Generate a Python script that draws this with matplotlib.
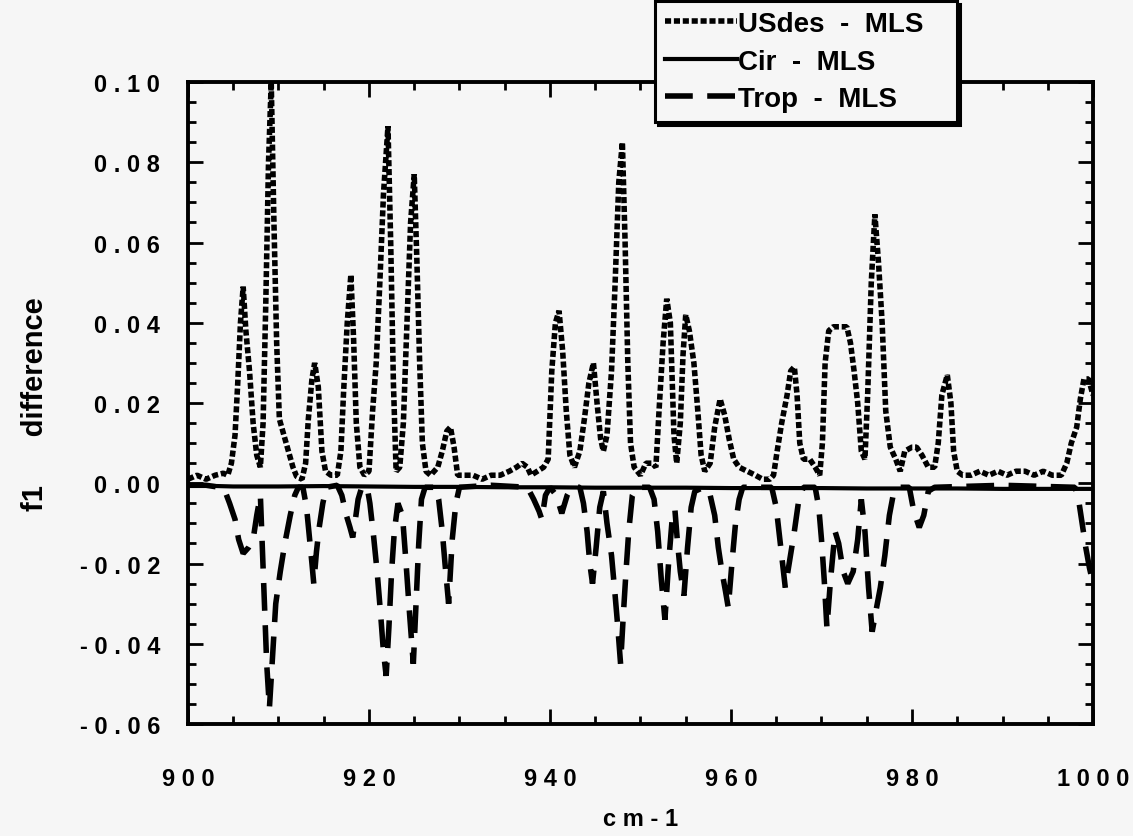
import numpy as np
import matplotlib
matplotlib.use("Agg")
import matplotlib.pyplot as plt

plt.rcParams['font.family'] = ['Liberation Sans', 'DejaVu Sans']
plt.rcParams['font.weight'] = 'bold'

# USdes - MLS (dotted)
us_x = [900.0, 901.0, 902.0, 903.0, 903.9, 904.4, 904.8, 905.2, 905.5, 905.8,
        906.1, 906.4, 906.8, 907.2, 907.6, 908.0, 908.3, 908.6, 908.9, 909.2,
        909.5, 909.8, 910.1, 910.6, 911.1, 911.6, 912.0, 912.6, 913.0, 913.3,
        913.7, 914.0, 914.4, 914.8, 915.2, 915.8, 916.5, 916.9, 917.2, 917.6,
        918.0, 918.3, 918.6, 919.0, 919.5, 920.0, 920.4, 920.8, 921.2, 921.6,
        922.1, 922.4, 922.7, 923.0, 923.4, 923.8, 924.2, 924.6, 925.0, 925.3,
        925.6, 925.9, 926.3, 926.8, 927.6, 928.1, 928.6, 929.0, 929.4, 929.8,
        930.4, 931.5, 932.5, 933.5, 934.5, 935.5, 936.3, 936.9, 937.5, 937.9,
        938.6, 939.3, 939.8, 940.2, 940.6, 941.0, 941.4, 941.8, 942.2, 942.7,
        943.3, 943.8, 944.3, 944.8, 945.2, 945.6, 945.9, 946.3, 946.8, 947.2,
        947.6, 948.0, 948.3, 948.6, 948.9, 949.3, 950.0, 950.6, 951.3, 951.7,
        952.1, 952.5, 952.9, 953.3, 953.7, 954.0, 954.4, 954.7, 955.0, 955.4,
        955.9, 956.3, 956.7, 957.1, 957.7, 958.2, 958.8, 959.3, 959.8, 960.3,
        960.9, 961.8, 962.7, 963.5, 964.3, 964.7, 965.1, 965.6, 966.2, 966.6,
        967.0, 967.3, 967.6, 968.0, 968.7, 969.3, 969.8, 970.1, 970.4, 970.8,
        971.3, 972.0, 972.8, 973.2, 973.6, 974.0, 974.4, 974.8, 975.1, 975.5,
        975.9, 976.3, 976.7, 977.1, 977.6, 978.2, 978.7, 979.2, 980.0, 980.5,
        981.1, 981.8, 982.5, 982.9, 983.3, 983.9, 984.3, 984.6, 985.0, 985.6,
        986.5, 987.5, 988.5, 989.5, 990.5, 991.5, 992.5, 993.5, 994.5, 995.5,
        996.5, 997.1, 997.6, 998.2, 998.6, 999.0, 999.5, 1000.0]
us_y = [0.001, 0.002, 0.001, 0.002, 0.0025, 0.002, 0.005, 0.012, 0.025, 0.040,
        0.049, 0.038, 0.028, 0.015, 0.007, 0.004, 0.015, 0.045, 0.080, 0.100,
        0.065, 0.035, 0.016, 0.012, 0.008, 0.004, 0.0017, 0.001, 0.005, 0.016,
        0.026, 0.030, 0.024, 0.008, 0.003, 0.002, 0.002, 0.008, 0.023, 0.040,
        0.052, 0.036, 0.015, 0.004, 0.002, 0.003, 0.018, 0.030, 0.050, 0.072,
        0.089, 0.060, 0.025, 0.003, 0.004, 0.015, 0.040, 0.065, 0.077, 0.055,
        0.030, 0.010, 0.003, 0.002, 0.004, 0.008, 0.013, 0.014, 0.009, 0.002,
        0.002, 0.002, 0.001, 0.002, 0.002, 0.003, 0.004, 0.005, 0.004, 0.002,
        0.003, 0.004, 0.006, 0.028, 0.040, 0.043, 0.033, 0.018, 0.007, 0.004,
        0.008, 0.016, 0.025, 0.030, 0.020, 0.011, 0.008, 0.012, 0.028, 0.050,
        0.075, 0.085, 0.060, 0.030, 0.010, 0.004, 0.002, 0.005, 0.005, 0.004,
        0.020, 0.035, 0.046, 0.040, 0.012, 0.005, 0.015, 0.032, 0.042, 0.038,
        0.030, 0.019, 0.007, 0.003, 0.005, 0.014, 0.021, 0.017, 0.011, 0.006,
        0.004, 0.003, 0.002, 0.001, 0.001, 0.002, 0.008, 0.015, 0.022, 0.028,
        0.029, 0.022, 0.010, 0.006, 0.006, 0.004, 0.002, 0.010, 0.030, 0.038,
        0.039, 0.039, 0.039, 0.035, 0.028, 0.020, 0.008, 0.006, 0.022, 0.050,
        0.067, 0.055, 0.040, 0.018, 0.009, 0.006, 0.003, 0.008, 0.009, 0.009,
        0.007, 0.004, 0.004, 0.010, 0.022, 0.027, 0.020, 0.008, 0.003, 0.002,
        0.002, 0.003, 0.002, 0.003, 0.002, 0.003, 0.003, 0.002, 0.003, 0.002,
        0.002, 0.005, 0.010, 0.014, 0.021, 0.026, 0.026, 0.022]

# Cir - MLS (solid)
cir_x = [900, 905, 910, 915, 920, 925, 930, 935, 940, 945, 950,
         955, 960, 965, 970, 975, 980, 985, 990, 995, 1000]
cir_y = [-0.0005, -0.0008, -0.0008, -0.0007, -0.0008, -0.0009, -0.0009, -0.0010, -0.0010, -0.0011, -0.0011,
         -0.0011, -0.0012, -0.0012, -0.0012, -0.0013, -0.0013, -0.0013, -0.0014, -0.0014, -0.0014]

# Trop - MLS (dashed)
tr_x = [900.0, 902.0, 903.5, 904.1, 904.6, 905.2, 905.6, 906.1, 906.7, 907.2,
        907.6, 908.0, 908.2, 908.45, 908.7, 909.0, 909.3, 909.7, 910.2, 910.7,
        911.3, 911.8, 912.2, 912.7, 913.1, 913.4, 913.7, 913.9, 914.2, 914.5,
        914.9, 915.3, 916.5, 917.0, 917.5, 917.9, 918.2, 918.5, 918.8, 919.2,
        919.8, 920.1, 920.5, 920.9, 921.3, 921.6, 921.9, 922.2, 922.5, 922.8,
        923.2, 923.7, 924.1, 924.5, 924.9, 925.2, 925.5, 925.8, 926.2, 927.3,
        927.7, 928.1, 928.4, 928.8, 929.2, 929.6, 930.0, 933.5, 937.5, 938.2,
        938.8, 939.1, 939.5, 940.0, 940.7, 941.3, 941.9, 942.4, 943.3, 943.7,
        944.1, 944.4, 944.7, 945.1, 945.5, 945.9, 946.3, 946.8, 947.2, 947.5,
        947.8, 948.1, 948.4, 948.7, 949.1, 949.6, 951.0, 951.5, 951.9, 952.3,
        952.7, 953.1, 953.5, 953.8, 954.1, 954.4, 954.8, 955.2, 955.6, 956.0,
        957.0, 957.7, 958.2, 958.6, 959.0, 959.4, 959.7, 960.1, 960.5, 960.9,
        961.3, 964.5, 965.0, 965.5, 966.0, 966.5, 967.0, 967.5, 968.0, 969.3,
        969.7, 970.0, 970.3, 970.6, 971.0, 971.5, 971.9, 972.4, 972.9, 973.5,
        974.0, 974.4, 974.8, 975.2, 975.6, 976.0, 976.5, 977.0, 977.5, 978.0,
        978.5, 979.7, 980.2, 980.8, 981.3, 981.8, 982.5, 990.0, 998.0, 998.4,
        998.8, 999.2, 999.6, 1000.0]
tr_y = [-0.0005, -0.0005, -0.001, -0.002, -0.005, -0.009, -0.014, -0.0175, -0.016, -0.014,
        -0.008, -0.003, -0.015, -0.030, -0.045, -0.056, -0.045, -0.030, -0.022, -0.015,
        -0.008, -0.003, -0.001, -0.001, -0.006, -0.013, -0.020, -0.025, -0.017, -0.011,
        -0.005, -0.001, -0.0005, -0.003, -0.008, -0.011, -0.0135, -0.009, -0.004, -0.001,
        -0.001, -0.005, -0.013, -0.022, -0.033, -0.042, -0.048, -0.036, -0.022, -0.012,
        -0.005, -0.008, -0.020, -0.033, -0.045, -0.030, -0.015, -0.004, -0.001, -0.001,
        -0.004, -0.012, -0.020, -0.030, -0.014, -0.005, -0.001, -0.0005, -0.001, -0.004,
        -0.007, -0.009, -0.003, -0.001, -0.003, -0.0075, -0.003, -0.001, -0.001, -0.005,
        -0.012, -0.020, -0.025, -0.016, -0.006, -0.002, -0.010, -0.018, -0.028, -0.036,
        -0.045, -0.033, -0.022, -0.012, -0.003, -0.001, -0.001, -0.004, -0.012, -0.024,
        -0.034, -0.020, -0.009, -0.0065, -0.015, -0.022, -0.028, -0.016, -0.006, -0.002,
        -0.001, -0.003, -0.008, -0.016, -0.022, -0.027, -0.031, -0.020, -0.010, -0.004,
        -0.001, -0.001, -0.006, -0.016, -0.026, -0.019, -0.012, -0.004, -0.001, -0.001,
        -0.006, -0.014, -0.024, -0.036, -0.024, -0.012, -0.015, -0.022, -0.025, -0.022,
        -0.014, -0.004, -0.012, -0.026, -0.037, -0.032, -0.026, -0.018, -0.008, -0.002,
        -0.001, -0.001, -0.007, -0.011, -0.008, -0.002, -0.001, -0.0005, -0.001, -0.004,
        -0.010, -0.016, -0.021, -0.025]

series_labels = ["USdes  -  MLS   ", "Cir  -  MLS", "Trop  -  MLS"]
xticks = [900, 920, 940, 960, 980, 1000]
yticks = [-0.06, -0.04, -0.02, 0.00, 0.02, 0.04, 0.06, 0.08, 0.10]


def spaced(s):
    return " ".join(s)


bg = "#f6f6f6"
fig = plt.figure(figsize=(11.33, 8.37), dpi=100, facecolor=bg)
ax = fig.add_axes([0.1659, 0.1338, 0.7988, 0.767], facecolor=bg)

l1, = ax.plot(us_x, us_y, color="k", lw=4.0, dashes=(1.1, 0.5),
              dash_capstyle="butt", dash_joinstyle="bevel")
l2, = ax.plot(cir_x, cir_y, color="k", lw=3.0)
l3, = ax.plot(tr_x, tr_y, color="k", lw=4.0, dashes=(5.0, 2.6),
              dash_capstyle="butt", dash_joinstyle="bevel")

ax.set_xlim(900, 1000)
ax.set_ylim(-0.06, 0.10)

ax.set_xticks(xticks)
ax.set_xticklabels([spaced(str(v)) for v in xticks])
ax.set_yticks(yticks)
ax.set_yticklabels([spaced("%.2f" % v) for v in yticks])
ax.xaxis.set_minor_locator(plt.MultipleLocator(5))
ax.yaxis.set_minor_locator(plt.MultipleLocator(0.005))

ax.tick_params(which="both", direction="in", top=True, right=True, width=2)
ax.tick_params(which="major", length=11)
ax.tick_params(which="minor", length=6)
ax.tick_params(axis="x", which="major", pad=31, labelsize=17)
ax.tick_params(axis="y", which="major", pad=20, labelsize=17)
for lab in ax.get_xticklabels() + ax.get_yticklabels():
    lab.set_fontweight("bold")

for sp in ax.spines.values():
    sp.set_linewidth(2.8)

ax.set_xlabel(spaced("cm-1"), fontsize=17, fontweight="bold", labelpad=12)
ax.set_ylabel("f1      difference", fontsize=21, fontweight="bold", labelpad=22)

leg = ax.legend([l1, l2, l3], series_labels, loc="upper left",
                bbox_to_anchor=(0.516, 1.126), fontsize=20, frameon=True,
                fancybox=False, edgecolor="k", facecolor=bg, framealpha=1,
                shadow={"color": "k", "alpha": 1.0},
                handlelength=2.6, handletextpad=0.05, labelspacing=0.42,
                borderpad=0.35, borderaxespad=0)
leg.get_frame().set_linewidth(2.2)
leg.set_zorder(5)
for t in leg.get_texts():
    t.set_fontweight("bold")

fig.savefig("out.png", dpi=100, facecolor=bg)
